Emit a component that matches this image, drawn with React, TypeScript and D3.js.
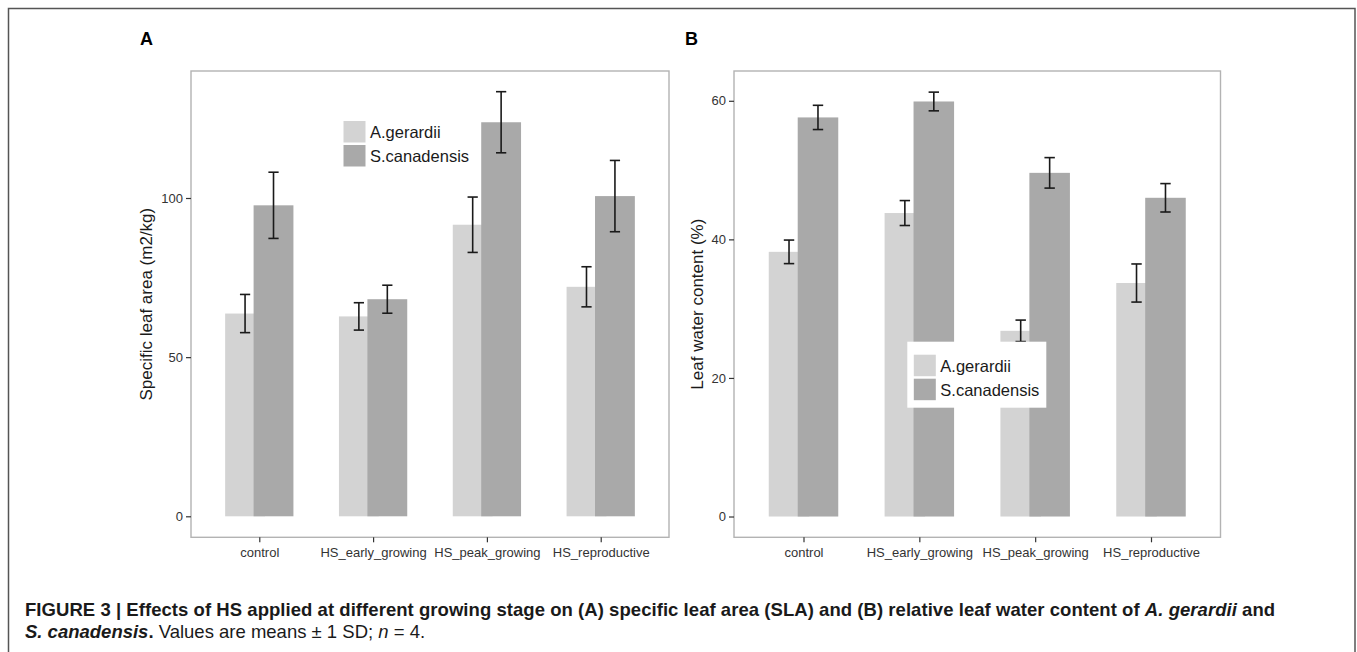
import React, { useEffect, useRef } from "react";
import * as d3 from "d3";

// groups on the x axis
const categories = ["control", "HS_early_growing", "HS_peak_growing", "HS_reproductive"];
const species = ["A.gerardii", "S.canadensis"];
const speciesColors = ["#d3d3d3", "#a9a9a9"];

// panel A: specific leaf area (m2/kg), mean and SD
const slaAgerardii = [63.7, 62.8, 91.6, 72.1];
const slaAgerardiiSd = [6.0, 4.3, 8.7, 6.3];
const slaScanadensis = [97.7, 68.2, 123.8, 100.6];
const slaScanadensisSd = [10.4, 4.4, 9.6, 11.2];
const slaTicks = [0, 50, 100];

// panel B: leaf water content (%), mean and SD
const lwcAgerardii = [38.2, 43.8, 26.8, 33.7];
const lwcAgerardiiSd = [1.7, 1.8, 1.55, 2.75];
const lwcScanadensis = [57.6, 59.9, 49.6, 46.0];
const lwcScanadensisSd = [1.75, 1.35, 2.2, 2.05];
const lwcTicks = [0, 20, 40, 60];

const FONT = "'Liberation Sans', Arial, Helvetica, sans-serif";

function drawPanel(svg, opts) {
  const { left, right, top, bottom, yDomain, ticks, means, sds, yTitle, letter, legend } = opts;

  const x = d3.scaleLinear().domain([0.4, categories.length + 0.6]).range([left, right]);
  const y = d3.scaleLinear().domain(yDomain).range([bottom, top]);
  const barW = 0.35, dodge = 0.25, capW = 0.09;

  const g = svg.append("g");

  // bars, A.gerardii first then S.canadensis on top
  species.forEach(function (sp, s) {
    const off = (s - 0.5) * dodge;
    g.selectAll(".bar" + s)
      .data(means[s])
      .enter().append("rect")
      .attr("x", (d, i) => x(i + 1 + off - barW / 2))
      .attr("width", x(barW) - x(0))
      .attr("y", d => y(d))
      .attr("height", d => y(0) - y(d))
      .attr("fill", speciesColors[s]);
  });

  // error bars
  species.forEach(function (sp, s) {
    const off = (s - 0.5) * dodge;
    const eb = g.selectAll(".err" + s)
      .data(means[s].map((m, i) => ({ m: m, sd: sds[s][i], i: i })))
      .enter().append("g")
      .attr("stroke", "#1a1a1a")
      .attr("stroke-width", 1.6)
      .attr("fill", "none");
    eb.append("line")
      .attr("x1", d => x(d.i + 1 + off)).attr("x2", d => x(d.i + 1 + off))
      .attr("y1", d => y(d.m - d.sd)).attr("y2", d => y(d.m + d.sd));
    eb.append("line")
      .attr("x1", d => x(d.i + 1 + off - capW / 2)).attr("x2", d => x(d.i + 1 + off + capW / 2))
      .attr("y1", d => y(d.m + d.sd)).attr("y2", d => y(d.m + d.sd));
    eb.append("line")
      .attr("x1", d => x(d.i + 1 + off - capW / 2)).attr("x2", d => x(d.i + 1 + off + capW / 2))
      .attr("y1", d => y(d.m - d.sd)).attr("y2", d => y(d.m - d.sd));
  });

  // panel border
  svg.append("rect")
    .attr("x", left).attr("y", top)
    .attr("width", right - left).attr("height", bottom - top)
    .attr("fill", "none").attr("stroke", "#b3b3b3").attr("stroke-width", 1.4);

  // y axis
  const yAxis = svg.append("g")
    .attr("transform", "translate(" + left + ",0)")
    .call(d3.axisLeft(y).tickValues(ticks).tickSize(5).tickPadding(3));
  yAxis.select(".domain").remove();
  yAxis.selectAll("line").attr("stroke", "#333").attr("stroke-width", 1.2);
  yAxis.selectAll("text").attr("fill", "#333").style("font", "13px " + FONT);

  // x axis
  const xAxis = svg.append("g")
    .attr("transform", "translate(0," + bottom + ")")
    .call(d3.axisBottom(x).tickValues(categories.map((c, i) => i + 1))
      .tickFormat((d) => categories[d - 1]).tickSize(5).tickPadding(5));
  xAxis.select(".domain").remove();
  xAxis.selectAll("line").attr("stroke", "#333").attr("stroke-width", 1.2);
  xAxis.selectAll("text").attr("fill", "#333").style("font", "13px " + FONT);

  // y title
  svg.append("text")
    .attr("transform", "translate(" + opts.yTitleX + "," + (top + bottom) / 2 + ") rotate(-90)")
    .attr("text-anchor", "middle")
    .attr("dy", "0.35em")
    .style("font", "17px " + FONT)
    .attr("fill", "#1a1a1a")
    .text(yTitle);

  // panel letter
  svg.append("text")
    .attr("x", opts.letterX).attr("y", 45)
    .style("font", "bold 18px " + FONT)
    .attr("fill", "#000")
    .text(letter);

  // legend
  const lg = svg.append("g").attr("transform", "translate(" + legend.x + "," + legend.y + ")");
  lg.append("rect")
    .attr("x", 0).attr("y", 0).attr("width", 139).attr("height", 66)
    .attr("fill", "#fff");
  species.forEach(function (sp, s) {
    lg.append("rect")
      .attr("x", 6.5).attr("y", 13 + s * 24)
      .attr("width", 22).attr("height", 21.5)
      .attr("fill", speciesColors[s]);
    lg.append("text")
      .attr("x", 33).attr("y", 13 + s * 24 + 11)
      .attr("dy", "0.36em")
      .style("font", "16.5px " + FONT)
      .attr("fill", "#1a1a1a")
      .text(sp);
  });
}

export default function App() {
  const ref = useRef(null);

  useEffect(() => {
    document.body.style.margin = "0";
    const svg = d3.select(ref.current);
    svg.selectAll("*").remove();

    svg.append("rect")
      .attr("x", 8.5).attr("y", 8.5)
      .attr("width", 1346.5).attr("height", 700)
      .attr("fill", "none").attr("stroke", "#555").attr("stroke-width", 1.5);

    drawPanel(svg, {
      left: 191, right: 669, top: 71, bottom: 537.3,
      yDomain: [-6.6, 139.9], ticks: slaTicks,
      means: [slaAgerardii, slaScanadensis], sds: [slaAgerardiiSd, slaScanadensisSd],
      yTitle: "Specific leaf area (m2/kg)", yTitleX: 146,
      letter: "A", letterX: 140,
      legend: { x: 337, y: 108 }
    });

    drawPanel(svg, {
      left: 734, right: 1220.5, top: 71, bottom: 537.3,
      yDomain: [-3.0, 64.3], ticks: lwcTicks,
      means: [lwcAgerardii, lwcScanadensis], sds: [lwcAgerardiiSd, lwcScanadensisSd],
      yTitle: "Leaf water content (%)", yTitleX: 697,
      letter: "B", letterX: 685,
      legend: { x: 907.3, y: 341.7 }
    });

    // caption
    const cap = svg.append("g").style("font-family", FONT).style("font-size", "18.5px").attr("fill", "#1a1a1a");
    const l1 = cap.append("text").attr("x", 25).attr("y", 616).attr("font-weight", "bold")
      .style("letter-spacing", "0.05px");
    l1.append("tspan").text("FIGURE 3 | Effects of HS applied at different growing stage on (A) specific leaf area (SLA) and (B) relative leaf water content of ");
    l1.append("tspan").attr("font-style", "italic").text("A. gerardii");
    l1.append("tspan").text(" and");
    const l2 = cap.append("text").attr("x", 25).attr("y", 638);
    l2.append("tspan").attr("font-weight", "bold").attr("font-style", "italic").text("S. canadensis");
    l2.append("tspan").attr("font-weight", "bold").text(".");
    l2.append("tspan").text(" Values are means \u00b1 1 SD; ");
    l2.append("tspan").attr("font-style", "italic").text("n");
    l2.append("tspan").text(" = 4.");
  }, []);

  return (
    <div>
      <svg ref={ref} width={1357} height={652} style={{ display: "block", background: "#fff" }}></svg>
    </div>
  );
}
